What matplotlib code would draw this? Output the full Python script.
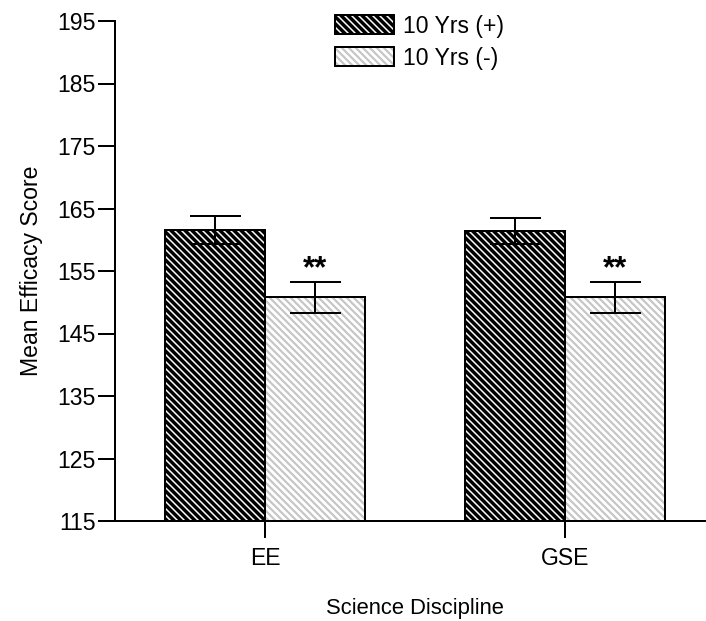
import matplotlib
matplotlib.use("Agg")
import matplotlib.pyplot as plt
from matplotlib.patches import Rectangle
import numpy as np

plt.rcParams['font.family'] = ['Liberation Sans', 'DejaVu Sans']

categories = ["EE", "GSE"]
series_names = ["10 Yrs (+)", "10 Yrs (-)"]
means_plus = [161.6, 161.4]
sem_plus = [2.2, 2.1]
means_minus = [150.8, 150.8]
sem_minus = [2.5, 2.5]
y_ticks = [115, 125, 135, 145, 155, 165, 175, 185, 195]
sig_labels = ["**", "**"]

DPI = 84
W, H = 706, 621
PT = 72.0 / DPI  # points per pixel

fig = plt.figure(figsize=(W / DPI, H / DPI), dpi=DPI)
ax = fig.add_axes([115 / W, 100 / H, 600 / W, 500 / H])

x = np.arange(len(categories))
bw = 1 / 3
stripe = "\\\\\\\\"
LIGHT = "#c6c6c6"
DARK_HATCH_LW = 1.5 * PT
LIGHT_HATCH_LW = 2.2 * PT


def hatched_bars(xpos, heights, face, hatch_col, hatch_lw):
    bars = ax.bar(xpos, heights, bw, bottom=0, color=face, edgecolor=hatch_col,
                  linewidth=0, hatch=stripe, zorder=2)
    for b in bars:
        b.set_hatch_linewidth(hatch_lw)
    ax.bar(xpos, heights, bw, fill=False, edgecolor="black",
           linewidth=2 * PT, zorder=3)


hatched_bars(x - bw / 2, means_plus, "black", "white", DARK_HATCH_LW)
hatched_bars(x + bw / 2, means_minus, "white", LIGHT, LIGHT_HATCH_LW)

for xs, m, s in [(x - bw / 2, means_plus, sem_plus), (x + bw / 2, means_minus, sem_minus)]:
    ax.errorbar(xs, m, yerr=s, fmt="none", ecolor="black", elinewidth=2 * PT,
                capsize=25.5 * PT, capthick=2 * PT, zorder=4)

for xi, m, s, lab in zip(x + bw / 2, means_minus, sem_minus, sig_labels):
    ax.annotate(lab, (xi, m + s), xytext=(0, 12 * PT), textcoords="offset points",
                ha="center", va="center", fontsize=31 * PT, fontweight="bold")

ax.set_xlim(-0.5, 1.5)
ax.set_ylim(115, 195)
ax.set_yticks(y_ticks)
ax.set_xticks(x)
ax.set_xticklabels(categories)
for sp in ["top", "right"]:
    ax.spines[sp].set_visible(False)
for sp in ["left", "bottom"]:
    ax.spines[sp].set_linewidth(2 * PT)
ax.tick_params(axis="both", length=17 * PT, width=2 * PT, pad=2 * PT)
ax.tick_params(axis="y", labelsize=23 * PT)
ax.tick_params(axis="x", labelsize=23 * PT, pad=9 * PT)
ax.set_ylabel("Mean Efficacy Score", fontsize=23 * PT, labelpad=14 * PT)
ax.set_xlabel("Science Discipline", fontsize=22 * PT, labelpad=28 * PT)

# legend drawn in figure pixels
for i, (name, face, hcol, hlw) in enumerate([
        (series_names[0], "black", "white", DARK_HATCH_LW),
        (series_names[1], "white", LIGHT, LIGHT_HATCH_LW)]):
    top = 15 + i * 32
    r = Rectangle((335 / W, 1 - (top + 19) / H), 59 / W, 19 / H, transform=fig.transFigure,
                  facecolor=face, edgecolor=hcol, linewidth=0, hatch=stripe)
    r.set_hatch_linewidth(hlw)
    fig.add_artist(r)
    fig.add_artist(Rectangle((335 / W, 1 - (top + 19) / H), 59 / W, 19 / H,
                             transform=fig.transFigure, fill=False,
                             edgecolor="black", linewidth=2 * PT))
    fig.text(403 / W, 1 - (top + 11) / H, name, fontsize=23 * PT, va="center", ha="left")

fig.savefig("out.png", dpi=DPI)
